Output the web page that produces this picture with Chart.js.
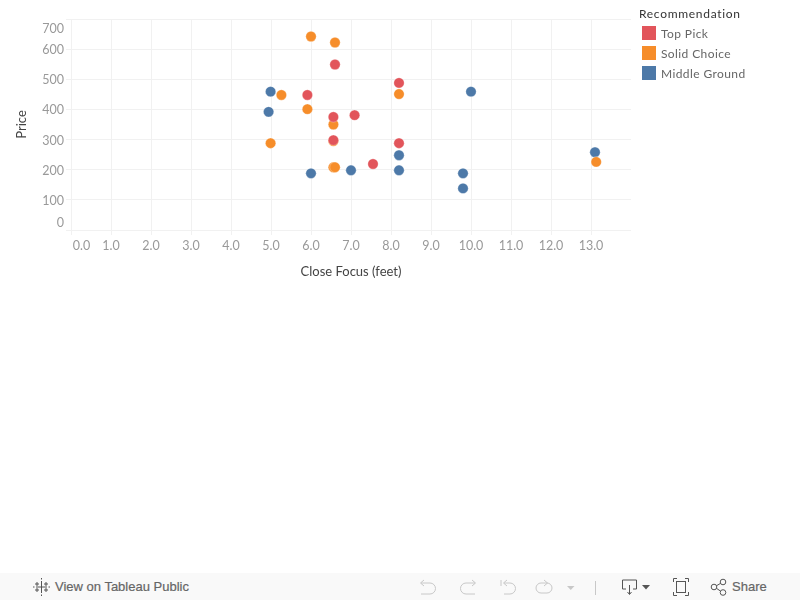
<!DOCTYPE html>
<html>
<head>
<meta charset="utf-8">
<title>Close Focus vs Price</title>
<script src="https://cdn.jsdelivr.net/npm/chart.js@4"></script>
<style>
  html, body { margin: 0; padding: 0; background: #fff; width: 800px; height: 600px; overflow: hidden; }
  #chart { position: absolute; left: 0; top: 0; }
  #legend { position: absolute; left: 639px; top: 6px; font: 12px Lato, sans-serif; color: #666; letter-spacing: 0.4px; }
  #legend .title { color: #333; height: 17px; line-height: 16px; letter-spacing: 0.7px; }
  #legend .row { position: relative; height: 20px; line-height: 22px; padding-left: 22px; }
  #legend .swatch { position: absolute; left: 3px; top: 3px; width: 14px; height: 14px; }
  #toolbar { position: absolute; left: 0; top: 573px; width: 800px; height: 27px; background: #f9f9f9; }
  #toolbar span { position: absolute; top: 6px; font: 13px/16px "Liberation Sans", Arial, sans-serif; color: #666; -webkit-text-stroke: 0.2px #666; }
  #toolbar svg { position: absolute; left: 0; top: 0; }
</style>
</head>
<body>
<canvas id="chart" width="800" height="290"></canvas>
<div id="legend"></div>
<div id="toolbar">
  <svg width="800" height="27" fill="none" stroke-width="1">
    <g stroke="#555">
      <path d="M41.500 8v12M36 14h11M41.500 5v1.500M41.500 21.500v1.500M33 14h1.500M48.500 14h1.500M37 9v4M35 11h4M46 9v4M44 11h4M37 15v4M35 17h4M46 15v4M44 17h4"/>
    </g>
    <g stroke="#c8c8c8">
      <path d="M421 10h9a5.500 5.500 0 0 1 0 11h-9M424 7l-3.500 3 3.500 3"/>
      <path d="M475 10h-9a5.500 5.500 0 0 0 0 11h9M472 7l3.500 3-3.500 3"/>
      <path d="M501 7v6M504 10h6a5.500 5.500 0 0 1 0 11h-6M507 7l-3.500 3 3.500 3"/>
      <path d="M547 10h-6a5 5 0 0 0 0 10h6a5 5 0 0 0 0-10M544 7l3.500 3-3.500 3"/>
      <path d="M595.500 8v14"/>
    </g>
    <path d="M567 13h7.500l-3.750 4z" fill="#c8c8c8"/>
    <g stroke="#555">
      <path d="M626 16h-3.500v-9h14v9h-3.500M629.500 12v9M627.500 19l2 2.500 2-2.500"/>
      <path d="M673.500 9v-3.500h3.500M685 5.500h3.500v3.500M688.500 19v3.500h-3.500M677 22.500h-3.500v-3.500"/>
      <rect x="676.500" y="8.500" width="9" height="11"/>
      <circle cx="714" cy="14" r="2.800"/><circle cx="723" cy="9" r="2.800"/><circle cx="723" cy="19.500" r="2.800"/>
      <path d="M716.500 12.700l4-2.300M716.500 15.300l4 2.800"/>
    </g>
    <path d="M642 12h8l-4 4.500z" fill="#555"/>
  </svg>
  <span style="left:55px">View on Tableau Public</span>
  <span style="left:732px">Share</span>
</div>

<script>
// --- Data ---
const seriesNames = ['Top Pick', 'Solid Choice', 'Middle Ground'];
const seriesColors = ['#e2555b', '#f68d2a', '#4d79a8'];

const topPickFocus = [6.6, 5.91, 6.56, 7.09, 6.56, 7.55, 8.2, 8.2];
const topPickPrice = [549, 448, 375, 381, 298, 219, 488, 288];

const solidChoiceFocus = [6.0, 6.6, 5.26, 5.91, 6.56, 6.56, 4.99, 6.56, 6.6, 8.2, 13.13];
const solidChoicePrice = [642, 622, 448, 401, 350, 295, 288, 208, 208, 451, 226];

const middleGroundFocus = [4.99, 4.94, 6.0, 7.0, 8.2, 8.2, 10.0, 9.8, 9.8, 13.1];
const middleGroundPrice = [459, 392, 188, 198, 248, 198, 459, 188, 138, 258];

const xTicks = [0, 1, 2, 3, 4, 5, 6, 7, 8, 9, 10, 11, 12, 13];
const yTicks = [0, 100, 200, 300, 400, 500, 600, 700];

const xAxisTitle = 'Close Focus (feet)';
const yAxisTitle = 'Price';
const legendTitle = 'Recommendation';

const TICK_COLOR = '#999';
const TICK_FONT = { family: 'Lato, sans-serif', size: 12.5 };

function toPoints(xs, ys) {
  return xs.map((x, i) => ({ x: x, y: ys[i] }));
}

// --- Legend ---
const legend = document.getElementById('legend');
legend.innerHTML = `<div class="title">${legendTitle}</div>` + seriesNames.map((name, i) =>
  `<div class="row"><div class="swatch" style="background:${seriesColors[i]}"></div>${name}</div>`
).join('');

// Tableau pushes the end labels inside the axis, so these three get drawn by hand
const clampedLabels = {
  id: 'clampedLabels',
  afterDraw(chart) {
    const { ctx, scales } = chart;
    ctx.save();
    ctx.fillStyle = TICK_COLOR;
    ctx.font = `${TICK_FONT.size}px ${TICK_FONT.family}`;
    ctx.textBaseline = 'middle';
    ctx.textAlign = 'right';
    ctx.fillText(yTicks[yTicks.length - 1], 64, scales.y.getPixelForValue(yTicks[yTicks.length - 1]) + 10);
    ctx.fillText(yTicks[0], 64, scales.y.getPixelForValue(yTicks[0]) - 7);
    ctx.textAlign = 'center';
    ctx.fillText(xTicks[0].toFixed(1), scales.x.getPixelForValue(xTicks[0]) + 10.5, 245.5);
    ctx.restore();
  }
};

// --- Chart ---
new Chart(document.getElementById('chart').getContext('2d'), {
  type: 'scatter',
  data: {
    datasets: [
      { label: seriesNames[0], data: toPoints(topPickFocus, topPickPrice), backgroundColor: seriesColors[0] },
      { label: seriesNames[1], data: toPoints(solidChoiceFocus, solidChoicePrice), backgroundColor: seriesColors[1] },
      { label: seriesNames[2], data: toPoints(middleGroundFocus, middleGroundPrice), backgroundColor: seriesColors[2] }
    ]
  },
  options: {
    responsive: false,
    animation: false,
    layout: { padding: { left: 0, top: 19, right: 169, bottom: 0 } },
    elements: { point: { radius: 5.2, borderWidth: 0.5, borderColor: 'rgba(255,255,255,0.6)' } },
    plugins: { legend: { display: false }, tooltip: { enabled: false } },
    scales: {
      x: {
        type: 'linear',
        min: 0,
        max: 14,
        afterBuildTicks: (scale) => { scale.ticks = xTicks.map((value) => ({ value })); },
        afterFit: (scale) => { scale.height = 60; },
        grid: { color: '#f1f1f1', tickLength: 5, tickColor: '#f1f1f1' },
        border: { display: false },
        ticks: {
          color: TICK_COLOR,
          font: TICK_FONT,
          maxRotation: 0,
          autoSkip: false,
          padding: 3,
          callback: (v) => (v === xTicks[0] ? '' : v.toFixed(1))
        },
        title: { display: true, text: xAxisTitle, color: '#444', font: { family: 'Lato, sans-serif', size: 13 }, padding: { top: 0, bottom: 10 } }
      },
      y: {
        type: 'linear',
        min: 0,
        max: 700,
        afterBuildTicks: (scale) => { scale.ticks = yTicks.map((value) => ({ value })); },
        afterFit: (scale) => { scale.width = 71; },
        grid: { color: '#f1f1f1', tickLength: 5, tickColor: '#f1f1f1' },
        border: { display: false },
        ticks: {
          color: TICK_COLOR,
          font: TICK_FONT,
          autoSkip: false,
          padding: 2,
          labelOffset: 1,
          callback: (v) => (v === yTicks[0] || v === yTicks[yTicks.length - 1] ? '' : v)
        },
        title: { display: true, text: yAxisTitle, color: '#444', font: { family: 'Lato, sans-serif', size: 13 }, padding: { top: 14, bottom: 0 } }
      }
    }
  },
  plugins: [clampedLabels]
});
</script>
</body>
</html>
